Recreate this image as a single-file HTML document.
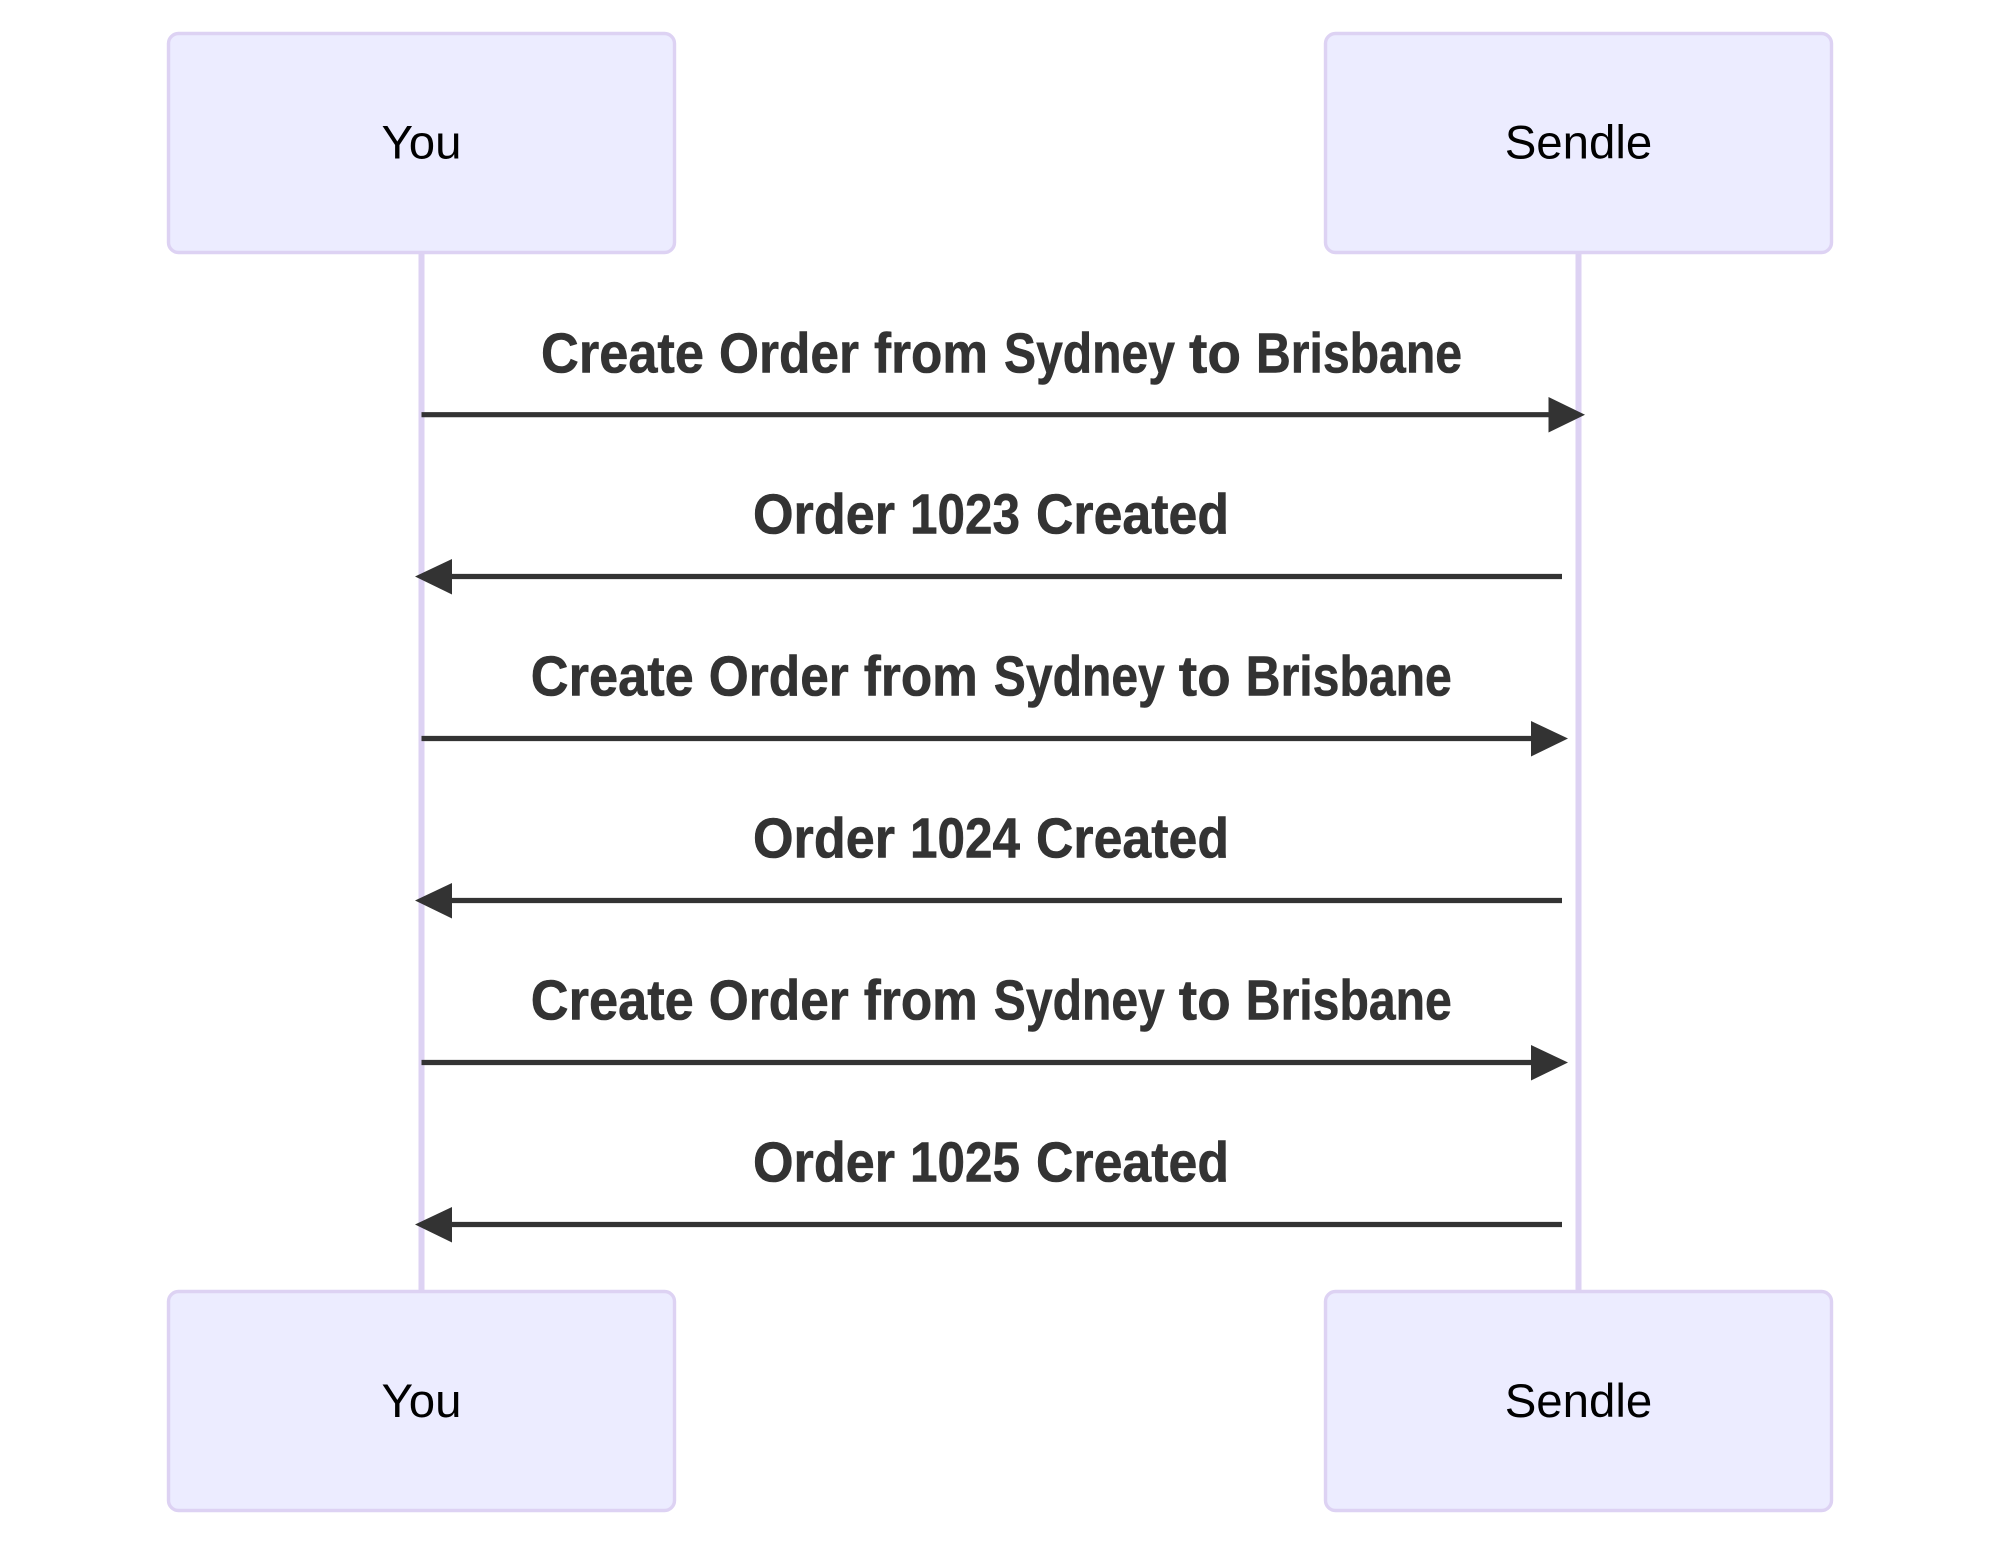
<!DOCTYPE html>
<html><head><meta charset="utf-8"><style>html,body{margin:0;padding:0;background:#fff}svg{display:block}
.a{font-family:"Liberation Sans",sans-serif;font-size:47.4px;fill:#000;text-anchor:middle}
.m text{font-family:"Liberation Sans",sans-serif;font-weight:bold;font-size:57px;fill:#333;stroke:#333;stroke-width:.6}
.l{stroke:#333;stroke-width:5.2;fill:none}
.b{fill:#ECECFF;stroke:#DDD2F3;stroke-width:3.4}
.v{stroke:#DDD2F3;stroke-width:6;fill:none}
</style></head><body>
<svg width="2000" height="1548" viewBox="0 0 2000 1548" xmlns="http://www.w3.org/2000/svg">
<rect width="2000" height="1548" fill="#fff"/>
<line class="v" x1="421.5" y1="250" x2="421.5" y2="1295"/>
<line class="v" x1="1578.5" y1="250" x2="1578.5" y2="1295"/>
<rect class="b" x="168.5" y="33.5" width="506" height="219" rx="10"/>
<rect class="b" x="1325.5" y="33.5" width="506" height="219" rx="10"/>
<rect class="b" x="168.5" y="1291.5" width="506" height="219" rx="10"/>
<rect class="b" x="1325.5" y="1291.5" width="506" height="219" rx="10"/>
<text class="a" x="421.5" y="158.5">You</text>
<text class="a" x="1578.5" y="158.5">Sendle</text>
<text class="a" x="421.5" y="1417">You</text>
<text class="a" x="1578.5" y="1417">Sendle</text>

<g class="m" transform="translate(0,372.5)">
<text x="541" y="0" textLength="163" lengthAdjust="spacingAndGlyphs">Create</text>
<text x="719" y="0" textLength="140" lengthAdjust="spacingAndGlyphs">Order</text>
<text x="874" y="0" textLength="114" lengthAdjust="spacingAndGlyphs">from</text>
<text x="1004" y="0" textLength="171" lengthAdjust="spacingAndGlyphs">Sydney</text>
<text x="1189" y="0" textLength="52" lengthAdjust="spacingAndGlyphs">to</text>
<text x="1256" y="0" textLength="206" lengthAdjust="spacingAndGlyphs">Brisbane</text>
</g>
<line class="l" x1="421.5" y1="414.7" x2="1550" y2="414.7"/>
<polygon fill="#333" points="1548.5,397 1585,414.7 1548.5,432.5"/>

<g class="m" transform="translate(0,533.5)">
<text x="753" y="0" textLength="142" lengthAdjust="spacingAndGlyphs">Order</text>
<text x="910" y="0" textLength="110" lengthAdjust="spacingAndGlyphs">1023</text>
<text x="1036" y="0" textLength="193" lengthAdjust="spacingAndGlyphs">Created</text>
</g>
<line class="l" x1="1562" y1="576.5" x2="450" y2="576.5"/>
<polygon fill="#333" points="452,559 415,576.5 452,594.5"/>

<g class="m" transform="translate(-10.2,695.5)">
<text x="541" y="0" textLength="163" lengthAdjust="spacingAndGlyphs">Create</text>
<text x="719" y="0" textLength="140" lengthAdjust="spacingAndGlyphs">Order</text>
<text x="874" y="0" textLength="114" lengthAdjust="spacingAndGlyphs">from</text>
<text x="1004" y="0" textLength="171" lengthAdjust="spacingAndGlyphs">Sydney</text>
<text x="1189" y="0" textLength="52" lengthAdjust="spacingAndGlyphs">to</text>
<text x="1256" y="0" textLength="206" lengthAdjust="spacingAndGlyphs">Brisbane</text>
</g>
<line class="l" x1="421.5" y1="738.5" x2="1533" y2="738.5"/>
<polygon fill="#333" points="1531,721 1568,738.5 1531,756.5"/>

<g class="m" transform="translate(0,857.5)">
<text x="753" y="0" textLength="142" lengthAdjust="spacingAndGlyphs">Order</text>
<text x="910" y="0" textLength="110" lengthAdjust="spacingAndGlyphs">1024</text>
<text x="1036" y="0" textLength="193" lengthAdjust="spacingAndGlyphs">Created</text>
</g>
<line class="l" x1="1562" y1="900.5" x2="450" y2="900.5"/>
<polygon fill="#333" points="452,883 415,900.5 452,918.5"/>

<g class="m" transform="translate(-10.2,1019.5)">
<text x="541" y="0" textLength="163" lengthAdjust="spacingAndGlyphs">Create</text>
<text x="719" y="0" textLength="140" lengthAdjust="spacingAndGlyphs">Order</text>
<text x="874" y="0" textLength="114" lengthAdjust="spacingAndGlyphs">from</text>
<text x="1004" y="0" textLength="171" lengthAdjust="spacingAndGlyphs">Sydney</text>
<text x="1189" y="0" textLength="52" lengthAdjust="spacingAndGlyphs">to</text>
<text x="1256" y="0" textLength="206" lengthAdjust="spacingAndGlyphs">Brisbane</text>
</g>
<line class="l" x1="421.5" y1="1062.5" x2="1533" y2="1062.5"/>
<polygon fill="#333" points="1531,1045 1568,1062.5 1531,1080.5"/>

<g class="m" transform="translate(0,1181.5)">
<text x="753" y="0" textLength="142" lengthAdjust="spacingAndGlyphs">Order</text>
<text x="910" y="0" textLength="110" lengthAdjust="spacingAndGlyphs">1025</text>
<text x="1036" y="0" textLength="193" lengthAdjust="spacingAndGlyphs">Created</text>
</g>
<line class="l" x1="1562" y1="1224.5" x2="450" y2="1224.5"/>
<polygon fill="#333" points="452,1207 415,1224.5 452,1242.5"/>
</svg>
</body></html>
